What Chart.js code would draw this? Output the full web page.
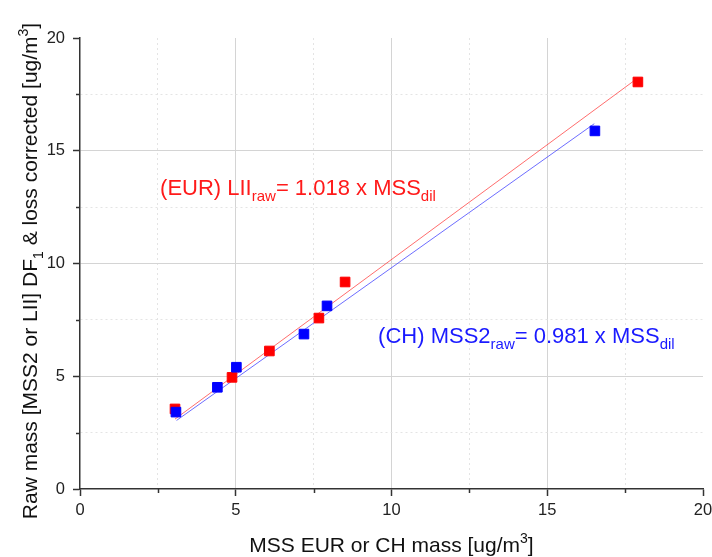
<!DOCTYPE html>
<html lang="en">
<head>
<meta charset="UTF-8">
<title>MSS vs raw mass</title>
<style>
  body { margin: 0; background: #fff; }
  canvas { display: block; }
</style>
</head>
<body>
<canvas id="massChart" width="712" height="557"></canvas>
<script src="https://cdn.jsdelivr.net/npm/chart.js@4.4.1/dist/chart.umd.min.js"></script>
<script>
// values
const eurX = [3.05, 4.88, 6.08, 7.67, 8.51, 17.91];
const eurY = [3.55, 4.95, 6.12, 7.58, 9.18, 18.05];
const chX = [3.08, 4.41, 5.02, 7.19, 7.93, 16.53];
const chY = [3.41, 4.51, 5.40, 6.87, 8.12, 15.88];

// fitted lines, end points
const eurFitX = [3.05, 17.91];
const eurFitY = [3.10, 18.23];
const chFitX = [3.10, 16.51];
const chFitY = [3.04, 16.20];

const axisTicks = [0, 2.5, 5, 7.5, 10, 12.5, 15, 17.5, 20];

const FONT = 'Liberation Sans, Arial, sans-serif';

const pts = (xs, ys) => xs.map((x, i) => ({ x, y: ys[i] }));
const isMajor = v => Math.abs(v % 5) < 1e-6;

// draws a run of text pieces, some as sub/superscript
const drawRich = (ctx, x, y, parts, size, color, align) => {
    const small = Math.round(size * 0.68);
    const fontFor = p => (p.sub || p.sup ? small : size) + 'px ' + FONT;
    let total = 0;
    parts.forEach(p => { ctx.font = fontFor(p); total += ctx.measureText(p.t).width; });
    let cx = align === 'center' ? x - total / 2 : x;
    ctx.fillStyle = color;
    ctx.textAlign = 'left';
    ctx.textBaseline = 'alphabetic';
    parts.forEach(p => {
        ctx.font = fontFor(p);
        let dy = 0;
        if (p.sub) dy = size * 0.27;
        if (p.sup) dy = -size * 0.42;
        ctx.fillText(p.t, cx, y + dy);
        cx += ctx.measureText(p.t).width;
    });
};

const textPlugin = {
    id: 'richText',
    afterDraw(chart) {
        const ctx = chart.ctx;
        const xs = chart.scales.x, ys = chart.scales.y;
        const area = chart.chartArea;
        ctx.save();

        // minor ticks, shorter than the major ones
        ctx.strokeStyle = '#333';
        ctx.lineWidth = 1.5;
        axisTicks.filter(v => !isMajor(v)).forEach(v => {
            const px = Math.round(xs.getPixelForValue(v)) + 0.5;
            ctx.beginPath(); ctx.moveTo(px, area.bottom); ctx.lineTo(px, area.bottom + 4); ctx.stroke();
            const py = Math.round(ys.getPixelForValue(v)) + 0.5;
            ctx.beginPath(); ctx.moveTo(area.left, py); ctx.lineTo(area.left - 4, py); ctx.stroke();
        });

        // axis titles
        drawRich(ctx, (area.left + area.right) / 2, 552,
            [{ t: 'MSS EUR or CH mass [ug/m' }, { t: '3', sup: true }, { t: ']' }], 21, '#111', 'center');
        ctx.save();
        ctx.translate(37, 271);
        ctx.rotate(-Math.PI / 2);
        drawRich(ctx, 0, 0,
            [{ t: 'Raw mass [MSS2 or LII] DF' }, { t: '1', sub: true },
             { t: ' & loss corrected [ug/m' }, { t: '3', sup: true }, { t: ']' }], 21, '#111', 'center');
        ctx.restore();

        // fit equations
        drawRich(ctx, xs.getPixelForValue(2.57), ys.getPixelForValue(13.04),
            [{ t: '(EUR) LII' }, { t: 'raw', sub: true }, { t: '= 1.018 x MSS' }, { t: 'dil', sub: true }],
            22, '#ff1a1a', 'left');
        drawRich(ctx, xs.getPixelForValue(9.57), ys.getPixelForValue(6.47),
            [{ t: '(CH) MSS2' }, { t: 'raw', sub: true }, { t: '= 0.981 x MSS' }, { t: 'dil', sub: true }],
            22, '#1a1aff', 'left');
        ctx.restore();
    }
};

const axisOpts = (isX) => ({
    type: 'linear',
    min: 0,
    max: 20,
    afterBuildTicks: s => { s.ticks = axisTicks.map(v => ({ value: v })); },
    afterFit: s => {
        if (isX) { s.height = 68; s.paddingLeft = 0; s.paddingRight = 0; }
        else { s.width = 80; s.paddingTop = 0; s.paddingBottom = 0; }
    },
    ticks: {
        autoSkip: false,
        padding: isX ? 5 : 8,
        color: '#222',
        font: { family: FONT, size: 16.5 },
        callback: v => isMajor(v) ? String(v) : ''
    },
    grid: {
        color: c => {
            const v = c.tick ? c.tick.value : 0;
            if (v === 0 || v === 20) return 'rgba(0,0,0,0)';
            return isMajor(v) ? '#d4d4d4' : '#e4e4e4';
        },
        lineWidth: 1,
        tickLength: 7,
        tickWidth: 1.5,
        tickColor: c => (c.tick && !isMajor(c.tick.value)) ? 'rgba(0,0,0,0)' : '#333'
    },
    border: {
        color: '#333',
        width: 1.5,
        dash: c => (c.tick && !isMajor(c.tick.value)) ? [2, 3] : []
    }
});

new Chart(document.getElementById('massChart').getContext('2d'), {
    type: 'scatter',
    data: {
        datasets: [
            {
                label: 'CH',
                data: pts(chX, chY),
                backgroundColor: '#0000ff',
                borderColor: '#0000ff',
                borderWidth: 1,
                pointStyle: 'rect',
                pointRadius: 6.8
            },
            {
                label: 'EUR',
                data: pts(eurX, eurY),
                backgroundColor: '#ff0000',
                borderColor: '#ff0000',
                borderWidth: 1,
                pointStyle: 'rect',
                pointRadius: 6.8
            },
            {
                type: 'line',
                label: 'CH fit',
                data: pts(chFitX, chFitY),
                borderColor: 'rgba(60,60,255,0.75)',
                borderWidth: 1,
                pointRadius: 0
            },
            {
                type: 'line',
                label: 'EUR fit',
                data: pts(eurFitX, eurFitY),
                borderColor: 'rgba(255,60,60,0.75)',
                borderWidth: 1,
                pointRadius: 0
            }
        ]
    },
    options: {
        responsive: false,
        animation: false,
        layout: { padding: { left: 0, top: 38, right: 9, bottom: 0 } },
        plugins: {
            legend: { display: false },
            tooltip: { enabled: false }
        },
        scales: {
            x: axisOpts(true),
            y: axisOpts(false)
        }
    },
    plugins: [textPlugin]
});
</script>
</body>
</html>
